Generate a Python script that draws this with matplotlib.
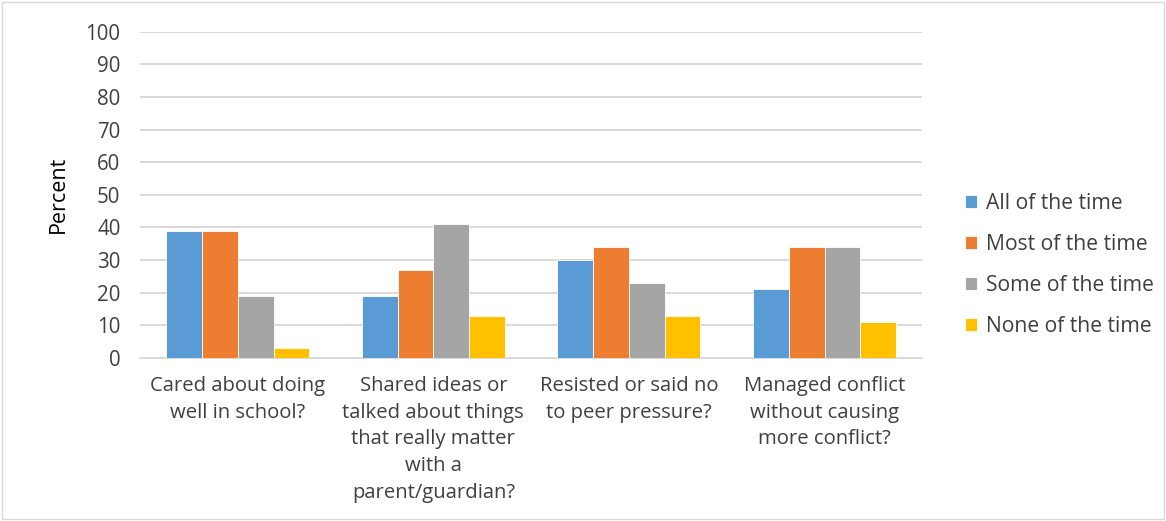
import matplotlib
matplotlib.use("Agg")
import matplotlib.pyplot as plt
import numpy as np

categories = ["Cared about doing\nwell in school?",
              "Shared ideas or\ntalked about things\nthat really matter\nwith a\nparent/guardian?",
              "Resisted or said no\nto peer pressure?",
              "Managed conflict\nwithout causing\nmore conflict?"]
series_names = ["All of the time", "Most of the time", "Some of the time", "None of the time"]
all_time = [39, 19, 30, 21]
most_time = [39, 27, 34, 34]
some_time = [19, 41, 23, 34]
none_time = [3, 13, 13, 11]
colors = ["#5B9BD5", "#ED7D31", "#A5A5A5", "#FFC000"]
yticks = [0, 10, 20, 30, 40, 50, 60, 70, 80, 90, 100]

plt.rcParams['font.family'] = ['Open Sans', 'DejaVu Sans']
fig = plt.figure(figsize=(11.66, 5.21), dpi=100)
ax = fig.add_axes([0.120, 0.313, 0.671, 0.626])

x = np.arange(len(categories))
w = 0.183
data = [all_time, most_time, some_time, none_time]
for i, (vals, name, c) in enumerate(zip(data, series_names, colors)):
    ax.bar(x + (i - 1.5) * w, vals, width=w, color=c, label=name,
           edgecolor="white", linewidth=0.6, zorder=3)

ax.set_xlim(-0.5, len(categories) - 0.5)
ax.set_ylim(0, 100)
ax.set_yticks(yticks)
ax.set_xticks(x)
ax.set_xticklabels(categories, fontsize=14.6, color="#404040", linespacing=1.45)
ax.tick_params(axis='y', labelsize=14.8, labelcolor="#404040", length=0, pad=14)
ax.tick_params(axis='x', length=0, pad=13)
ax.grid(axis='y', color="#D9D9D9", linewidth=1.4, zorder=0)
for s in ["top", "right", "left"]:
    ax.spines[s].set_visible(False)
ax.spines["bottom"].set_color("#D9D9D9")
ax.spines["bottom"].set_linewidth(1.4)
ax.set_ylabel("Percent", fontsize=15.5, color="#000000", labelpad=12)

leg = ax.legend(loc="center left", bbox_to_anchor=(1.03, 0.285), frameon=False,
                fontsize=15.2, handlelength=0.6, handleheight=0.6,
                handletextpad=0.4, labelspacing=0.95, labelcolor="#404040")

fig.patches.append(plt.Rectangle((0.002, 0.004), 0.996, 0.992, transform=fig.transFigure,
                                 fill=False, edgecolor="#D9D9D9", linewidth=1))
fig.savefig("out.png", dpi=100)
